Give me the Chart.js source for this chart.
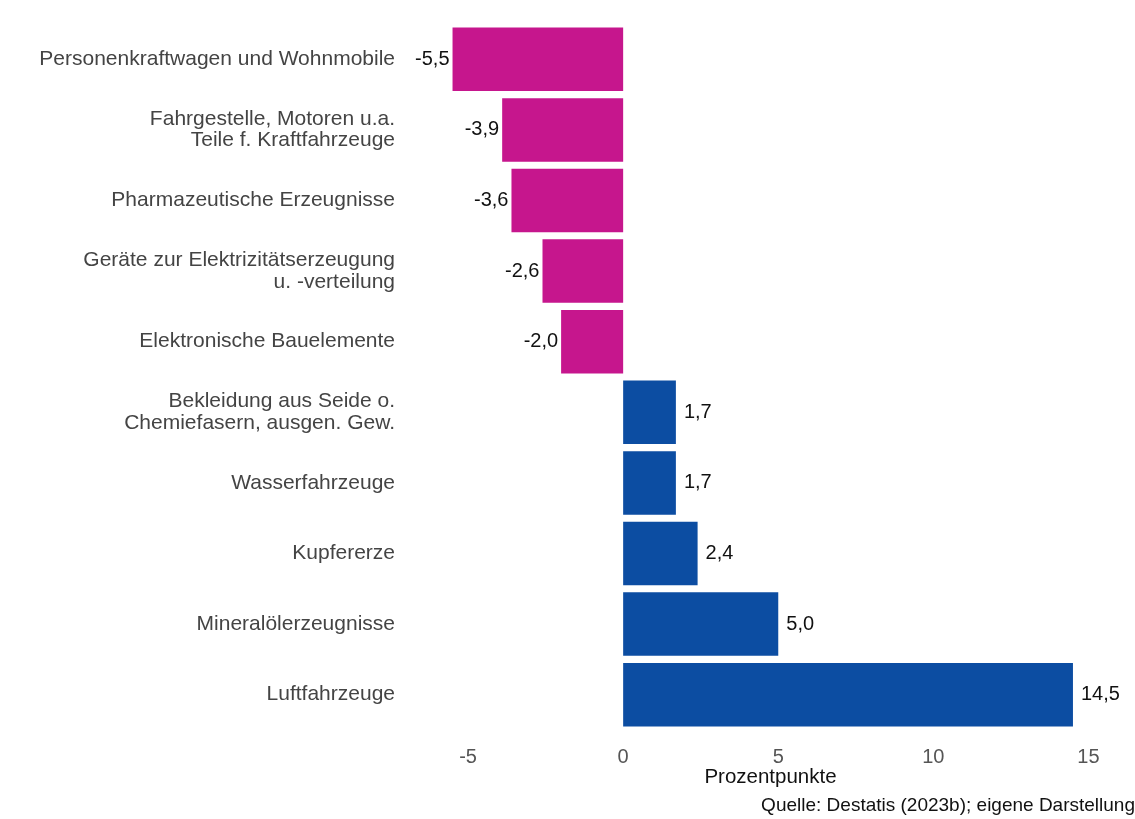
<!DOCTYPE html>
<html>
<head>
<meta charset="utf-8">
<script src="https://cdn.jsdelivr.net/npm/chart.js@4"></script>
<style>
  body { margin: 0; background: #fff; }
</style>
</head>
<body>
<canvas id="chart" width="1135" height="819"></canvas>
<script>
const categories = [
  'Personenkraftwagen und Wohnmobile',
  ['Fahrgestelle, Motoren u.a.', 'Teile f. Kraftfahrzeuge'],
  'Pharmazeutische Erzeugnisse',
  ['Geräte zur Elektrizitätserzeugung', 'u. -verteilung'],
  'Elektronische Bauelemente',
  ['Bekleidung aus Seide o.', 'Chemiefasern, ausgen. Gew.'],
  'Wasserfahrzeuge',
  'Kupfererze',
  'Mineralölerzeugnisse',
  'Luftfahrzeuge'
];
const values = [-5.5, -3.9, -3.6, -2.6, -2.0, 1.7, 1.7, 2.4, 5.0, 14.5];
const xTicks = [-5, 0, 5, 10, 15];

const pink = '#c6168d';
const blue = '#0c4da2';
const fontFam = '"Liberation Sans", Arial, sans-serif';

// value labels next to the bar ends, German decimal comma
const valueLabels = {
  id: 'valueLabels',
  afterDatasetsDraw(chart) {
    const ctx = chart.ctx;
    const meta = chart.getDatasetMeta(0);
    ctx.save();
    ctx.font = '20px ' + fontFam;
    ctx.fillStyle = '#111';
    ctx.textBaseline = 'middle';
    meta.data.forEach((bar, i) => {
      const v = values[i];
      const txt = v.toFixed(1).replace('.', ',');
      if (v < 0) {
        ctx.textAlign = 'right';
        ctx.fillText(txt, bar.x - 3, bar.y);
      } else {
        ctx.textAlign = 'left';
        ctx.fillText(txt, bar.x + 8, bar.y);
      }
    });
    ctx.restore();
  }
};

new Chart(document.getElementById('chart'), {
  type: 'bar',
  data: {
    labels: categories,
    datasets: [{
      data: values,
      backgroundColor: values.map(v => v < 0 ? pink : blue),
      categoryPercentage: 1,
      barPercentage: 0.9
    }]
  },
  options: {
    indexAxis: 'y',
    responsive: false,
    animation: false,
    layout: { padding: { top: 24, right: 0, bottom: 4, left: 0 } },
    plugins: {
      legend: { display: false },
      tooltip: { enabled: false },
      subtitle: {
        display: true,
        position: 'bottom',
        align: 'end',
        text: 'Quelle: Destatis (2023b); eigene Darstellung',
        color: '#111',
        font: { family: fontFam, size: 19, lineHeight: 1 },
        padding: { top: 8, bottom: 0 }
      }
    },
    scales: {
      x: {
        min: -7,
        max: 16.5,
        grid: { display: false, drawTicks: false },
        border: { display: false },
        afterBuildTicks: s => { s.ticks = xTicks.map(v => ({ value: v })); },
        afterFit: s => { s.height = 58; },
        ticks: {
          color: '#555',
          padding: 17,
          font: { family: fontFam, size: 20, lineHeight: 1 },
          callback: v => String(v)
        },
        title: {
          display: true,
          text: 'Prozentpunkte',
          color: '#111',
          padding: { top: 0, bottom: 0 },
          font: { family: fontFam, size: 20.5, lineHeight: 1 }
        }
      },
      y: {
        grid: { display: false, drawTicks: false },
        border: { display: false },
        afterFit: s => { s.width = 406; },
        ticks: {
          color: '#444',
          padding: 11,
          font: { family: fontFam, size: 21, lineHeight: 1.02 }
        }
      }
    }
  },
  plugins: [valueLabels]
});
</script>
</body>
</html>
